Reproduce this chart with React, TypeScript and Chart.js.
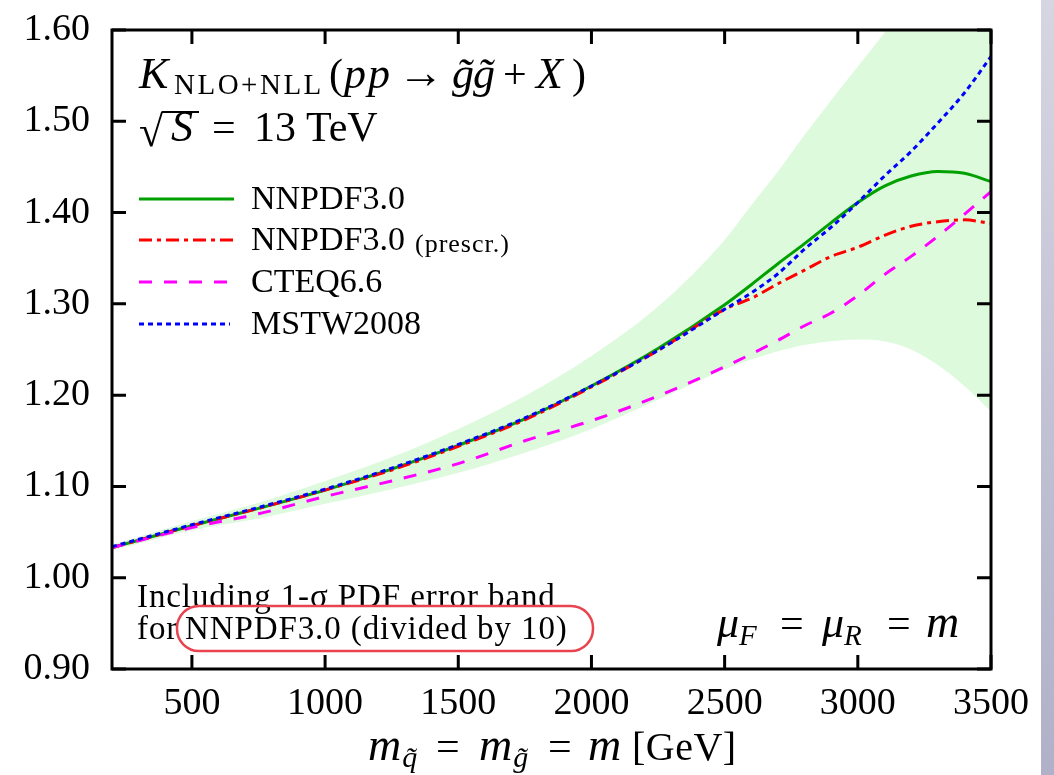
import React, { useEffect, useRef } from "react";
import { Chart, registerables } from "chart.js";

Chart.register(...registerables);

const masses = [200, 500, 750, 1000, 1250, 1500, 1750, 2000, 2250, 2500, 2600, 2700, 2800, 2900, 3000, 3100, 3200, 3300, 3400, 3500];
const nnpdf = [1.033, 1.057, 1.076, 1.096, 1.119, 1.145, 1.174, 1.210, 1.251, 1.299, 1.321, 1.344, 1.366, 1.389, 1.411, 1.429, 1.440, 1.445, 1.443, 1.434];
const nnpdfPrescr = [1.033, 1.057, 1.076, 1.096, 1.118, 1.144, 1.173, 1.209, 1.249, 1.294, 1.306, 1.322, 1.337, 1.352, 1.362, 1.375, 1.385, 1.390, 1.392, 1.388];
const cteq = [1.033, 1.055, 1.070, 1.089, 1.106, 1.125, 1.150, 1.172, 1.199, 1.231, 1.245, 1.260, 1.276, 1.290, 1.309, 1.332, 1.352, 1.374, 1.398, 1.423];
const mstw = [1.034, 1.058, 1.077, 1.097, 1.120, 1.146, 1.175, 1.210, 1.249, 1.294, 1.312, 1.333, 1.360, 1.384, 1.411, 1.440, 1.467, 1.498, 1.531, 1.571];
const bandUpper = [1.036, 1.062, 1.082, 1.106, 1.132, 1.163, 1.199, 1.243, 1.297, 1.370, 1.408, 1.445, 1.485, 1.523, 1.560, 1.597, 1.635, 1.673, 1.711, 1.749];
const bandLower = [1.030, 1.052, 1.065, 1.081, 1.097, 1.115, 1.137, 1.163, 1.195, 1.228, 1.239, 1.248, 1.255, 1.259, 1.261, 1.259, 1.250, 1.233, 1.210, 1.182];

const legendLabels = ["NNPDF3.0", "NNPDF3.0", "CTEQ6.6", "MSTW2008"];
const xTicks = [500, 1000, 1500, 2000, 2500, 3000, 3500];

const SERIF = '"Liberation Serif", "DejaVu Serif", serif';
const GREEN = "rgb(0,160,0)";
const RED = "rgb(255,0,0)";
const MAGENTA = "rgb(255,0,255)";
const BLUE = "rgb(0,0,255)";
const BAND = "rgb(221,250,221)";

type Run = { t: string; f: string; x?: number; gap?: number; dy?: number; ls?: number };

function drawRuns(ctx: CanvasRenderingContext2D, y: number, runs: Run[]) {
  let cx = 0;
  for (const r of runs) {
    ctx.font = r.f;
    (ctx as any).letterSpacing = `${r.ls || 0}px`;
    const x = r.x !== undefined ? r.x : cx + (r.gap || 0);
    ctx.fillText(r.t, x, y + (r.dy || 0));
    cx = x + ctx.measureText(r.t).width;
  }
  (ctx as any).letterSpacing = "0px";
}

const pts = (ys: number[]) => masses.map((m, i) => ({ x: m, y: ys[i] }));

const decorPlugin = {
  id: "decor",
  afterDraw(chart: any) {
    const ctx: CanvasRenderingContext2D = chart.ctx;
    const { left, right, top, bottom } = chart.chartArea;
    const xs = chart.scales.x;
    const ys = chart.scales.y;
    ctx.save();
    ctx.strokeStyle = "#000";
    ctx.lineWidth = 3;
    ctx.lineCap = "butt";
    const tl = 14;
    ctx.beginPath();
    for (const t of xs.ticks) {
      const px = xs.getPixelForValue(t.value);
      ctx.moveTo(px, bottom);
      ctx.lineTo(px, bottom - tl);
      ctx.moveTo(px, top);
      ctx.lineTo(px, top + tl);
    }
    for (const t of ys.ticks) {
      const py = ys.getPixelForValue(t.value);
      ctx.moveTo(left, py);
      ctx.lineTo(left + tl, py);
      ctx.moveTo(right, py);
      ctx.lineTo(right - tl, py);
    }
    ctx.stroke();
    ctx.strokeRect(left, top, right - left, bottom - top);

    ctx.fillStyle = "#000";
    ctx.textBaseline = "alphabetic";
    ctx.textAlign = "left";
    const it = (s: number) => `italic ${s}px ${SERIF}`;
    const rm = (s: number) => `${s}px ${SERIF}`;

    // Title line 1
    drawRuns(ctx, 88, [
      { t: "K", f: it(44), x: 139 },
      { t: "NLO+NLL", f: rm(29), x: 174, dy: 6, ls: 2.5 },
      { t: "(", f: rm(42), x: 329 },
      { t: "pp", f: it(44), x: 344, ls: 2 },
      { t: "\u2192", f: rm(46), x: 398 },
      { t: "g\u0303", f: it(44), x: 452 },
      { t: "g\u0303", f: it(44), x: 473 },
      { t: "+", f: rm(42), x: 503 },
      { t: "X", f: it(44), x: 536 },
      { t: ")", f: rm(42), x: 572 },
    ]);

    // Title line 2
    ctx.font = rm(44);
    ctx.fillText("\u221A", 139, 146);
    const m = ctx.measureText("\u221A");
    const barY = 146 - m.actualBoundingBoxAscent + 1;
    ctx.lineWidth = 2;
    ctx.beginPath();
    ctx.moveTo(139 + m.actualBoundingBoxRight - 2, barY);
    ctx.lineTo(199, barY);
    ctx.stroke();
    drawRuns(ctx, 141, [
      { t: "S", f: it(44), x: 171 },
      { t: "=", f: rm(42), x: 212 },
      { t: "13", f: rm(42), x: 254 },
      { t: "TeV", f: rm(42), x: 306 },
    ]);

    // Legend
    const rows = [199, 240, 282, 324];
    const colors = [GREEN, RED, MAGENTA, BLUE];
    const dashes = [[], [13, 5, 4, 5], [13, 12], [5, 4]];
    for (let i = 0; i < 4; i++) {
      ctx.strokeStyle = colors[i];
      ctx.lineWidth = 3;
      ctx.setLineDash(dashes[i]);
      ctx.beginPath();
      ctx.moveTo(139, rows[i]);
      ctx.lineTo(i === 2 ? 228 : i === 3 ? 230 : 234, rows[i]);
      ctx.stroke();
      ctx.setLineDash([]);
      ctx.fillStyle = "#000";
      ctx.font = rm(34);
      ctx.fillText(legendLabels[i], 251, rows[i] + 10);
      if (i === 1) {
        ctx.font = rm(26);
        (ctx as any).letterSpacing = "1px";
        ctx.fillText("(prescr.)", 415, rows[i] + 12);
        (ctx as any).letterSpacing = "0px";
      }
    }

    // Note
    drawRuns(ctx, 607, [{ t: "Including 1-\u03C3 PDF error band", f: rm(33), x: 137, ls: 0.9 }]);
    drawRuns(ctx, 639, [
      { t: "for", f: rm(33), x: 137, ls: 0.9 },
      { t: "NNPDF3.0 (divided by 10)", f: rm(33), x: 185, ls: 0.9 },
    ]);
    ctx.strokeStyle = "rgb(232,67,79)";
    ctx.lineWidth = 2.5;
    ctx.beginPath();
    (ctx as any).roundRect(177, 606, 416, 45, 22);
    ctx.stroke();

    // mu_F = mu_R = m
    ctx.fillStyle = "#000";
    drawRuns(ctx, 637, [
      { t: "\u03BC", f: it(44), x: 717 },
      { t: "F", f: it(29), gap: 0, dy: 8 },
      { t: "=", f: rm(42), x: 780 },
      { t: "\u03BC", f: it(44), x: 822 },
      { t: "R", f: it(29), gap: 0, dy: 8 },
      { t: "=", f: rm(42), x: 887 },
      { t: "m", f: it(46), x: 926 },
    ]);

    // x-axis title
    drawRuns(ctx, 760, [
      { t: "m", f: it(46), x: 368 },
      { t: "q\u0303", f: it(30), gap: 1, dy: 7 },
      { t: "=", f: rm(42), x: 436 },
      { t: "m", f: it(46), x: 479 },
      { t: "g\u0303", f: it(30), gap: 1, dy: 7 },
      { t: "=", f: rm(42), x: 548 },
      { t: "m", f: it(46), x: 588 },
      { t: "[GeV]", f: rm(40), x: 632, ls: 0.5 },
    ]);
    ctx.restore();
  },
};

export default function App() {
  const ref = useRef<HTMLCanvasElement | null>(null);
  useEffect(() => {
    if (!ref.current) return;
    const lineDs = (label: string, ys: number[], color: string, dash: number[], order: number) => ({
      label,
      data: pts(ys),
      borderColor: color,
      backgroundColor: color,
      borderWidth: 3,
      borderDash: dash,
      borderCapStyle: "butt",
      pointRadius: 0,
      fill: false,
      cubicInterpolationMode: "monotone",
      order,
    });
    const noPad = (s: any) => {
      s.paddingTop = 0;
      s.paddingBottom = 0;
      s.paddingLeft = 0;
      s.paddingRight = 0;
    };
    const chart = new Chart(ref.current, {
      type: "line",
      data: {
        datasets: [
          lineDs("MSTW2008", mstw, BLUE, [5, 4], 1),
          lineDs("CTEQ6.6", cteq, MAGENTA, [13, 12], 2),
          lineDs("NNPDF3.0 (prescr.)", nnpdfPrescr, RED, [13, 5, 4, 5], 3),
          lineDs("NNPDF3.0", nnpdf, GREEN, [], 4),
          {
            label: "band upper",
            data: pts(bandUpper),
            borderWidth: 0,
            borderColor: "rgba(0,0,0,0)",
            backgroundColor: BAND,
            pointRadius: 0,
            fill: "+1",
            cubicInterpolationMode: "monotone",
            order: 10,
          },
          {
            label: "band lower",
            data: pts(bandLower),
            borderWidth: 0,
            borderColor: "rgba(0,0,0,0)",
            pointRadius: 0,
            fill: false,
            cubicInterpolationMode: "monotone",
            order: 11,
          },
        ],
      } as any,
      options: {
        animation: false,
        responsive: true,
        maintainAspectRatio: false,
        layout: { padding: { top: 30, right: 63, left: 0, bottom: 0 } },
        plugins: { legend: { display: false }, tooltip: { enabled: false } },
        scales: {
          x: {
            type: "linear",
            min: 200,
            max: 3500,
            grid: { display: false, drawTicks: false },
            border: { display: false },
            ticks: {
              stepSize: 500,
              padding: 12,
              color: "#000",
              font: { family: SERIF, size: 38 },
              maxRotation: 0,
              autoSkip: false,
              callback: (v: any) => String(v),
            },
            afterBuildTicks: (a: any) => {
              a.ticks = xTicks.map((v) => ({ value: v }));
            },
            afterFit: (s: any) => {
              s.height = 106;
              noPad(s);
            },
          },
          y: {
            min: 0.9,
            max: 1.6,
            grid: { display: false, drawTicks: false },
            border: { display: false },
            ticks: {
              stepSize: 0.1,
              padding: 22,
              color: "#000",
              font: { family: SERIF, size: 38 },
              callback: (v: any) => Number(v).toFixed(2),
            },
            afterFit: (s: any) => {
              s.width = 112;
              noPad(s);
            },
          },
        },
      } as any,
      plugins: [decorPlugin],
    });
    return () => chart.destroy();
  }, []);
  return (
    <div style={{ position: "absolute", left: 0, top: 0, width: 1054, height: 775, background: "#fff" }}>
      <canvas ref={ref} />
      <div
        style={{
          position: "absolute",
          left: 1041,
          top: 0,
          width: 13,
          height: 775,
          background: "linear-gradient(to bottom, #d6d6e2, #b0b0c8)",
        }}
      />
    </div>
  );
}
